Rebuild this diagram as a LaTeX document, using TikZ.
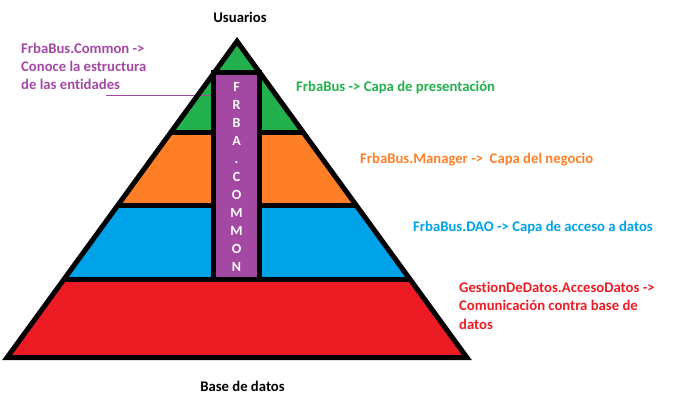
\documentclass[tikz,border=0pt]{standalone}
\usepackage{fontspec}
\setmainfont{Carlito}[Ligatures={NoCommon}]
\definecolor{pgreen}{HTML}{22B14C}
\definecolor{porange}{HTML}{FF7F27}
\definecolor{pblue}{HTML}{00A2E8}
\definecolor{pred}{HTML}{ED1C24}
\definecolor{ppurple}{HTML}{A349A4}
\begin{document}
\begin{tikzpicture}[x=1pt,y=-1pt,
  lbl/.style={font=\fontsize{14.7}{18.3}\selectfont\bfseries, inner sep=0pt, anchor=base west, align=left},
  ctr/.style={font=\fontsize{14.7}{18.3}\selectfont\bfseries, inner sep=0pt, anchor=base},
  band/.style={line width=5pt}]
\useasboundingbox (0,0) rectangle (679,408);
\coordinate (apex) at (237,41.3);
\coordinate (bl) at (7.1,357.5);
\coordinate (br) at (466.9,357.5);
% bands
\begin{scope}
  \clip (apex) -- (bl) -- (br) -- cycle;
  \fill[pgreen] (0,0) rectangle (679,132.5);
  \fill[porange] (0,132.5) rectangle (679,205.5);
  \fill[pblue] (0,205.5) rectangle (679,279);
  \fill[pred] (0,279) rectangle (679,362);
  \draw[band] (0,72.5) -- (679,72.5);
  \draw[band] (0,132.5) -- (679,132.5);
  \draw[band] (0,205.5) -- (679,205.5);
  \draw[band] (0,279) -- (679,279);
\end{scope}
% connector from Common label to column
\coordinate (cl) at (106,95);
\draw[ppurple, line width=1pt] (cl) -- (230,95);
% column
\node[name=col, draw=black, fill=ppurple, line width=5pt, inner sep=0pt,
      minimum width=46.2pt, minimum height=206.5pt] at (236.6,175.75) {};
\node[name=colt, font=\fontsize{14}{18}\selectfont\bfseries, text=white, align=center, inner sep=0pt, anchor=base]
  at (236.6,271.5) {F\\R\\B\\A\\.\\C\\O\\M\\M\\O\\N};
% outline
\draw[line width=5pt, line join=miter] (apex) -- (bl) -- (br) -- cycle;
% labels
\node[ctr, name=usu] at (240,22.5) {Usuarios};
\node[ctr, name=bdd] at (242.5,391) {Base de datos};
\node[lbl, name=common, text=ppurple] at (21,89.6) {FrbaBus.Common ->\\Conoce la estructura\\de las entidades};
\node[lbl, name=pres, text=pgreen] at (296,91) {FrbaBus -> Capa de presentación};
\node[lbl, name=mgr, text=porange] at (360,163.5) {FrbaBus.Manager ->\ \ Capa del negocio};
\node[lbl, name=dao, text=pblue] at (413,231) {FrbaBus.DAO -> Capa de acceso a datos};
\node[lbl, name=gdd, text=pred] at (459,329) {GestionDeDatos.AccesoDatos ->\\Comunicación contra base de\\datos};
\end{tikzpicture}
\end{document}
